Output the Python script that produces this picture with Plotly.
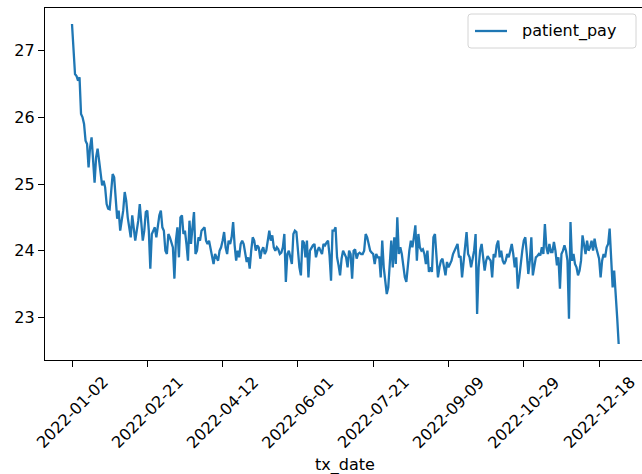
import pandas as pd
import plotly.graph_objects as go

start_date = "2022-01-02"
patient_pay = [
    27.40, 27.00, 26.65, 26.62, 26.55, 26.60, 26.05, 26.00, 25.90, 25.65,
    25.60, 25.25, 25.55, 25.70, 25.35, 25.02, 25.40, 25.53, 25.35, 25.20,
    24.98, 25.05, 24.95, 24.70, 24.63, 24.62, 24.90, 25.15, 25.10, 24.75,
    24.48, 24.60, 24.30, 24.45, 24.60, 24.88, 24.75, 24.50, 24.30, 24.20,
    24.53, 24.35, 24.15, 24.30, 24.45, 24.70, 24.35, 24.15, 24.30, 24.58,
    24.60, 24.30, 23.73, 24.25, 24.30, 24.35, 24.20, 24.40, 24.53, 24.60,
    24.35, 24.30, 24.00, 23.95, 24.25, 24.20, 24.10, 24.05, 23.58, 24.15,
    24.35, 23.90, 24.50, 24.53, 24.25, 24.30, 24.10, 23.85, 24.45, 24.10,
    24.35, 24.58, 23.95, 24.00, 24.20, 24.15, 24.30, 24.33, 24.35, 24.15,
    24.10, 24.15, 24.05, 23.90, 23.80, 23.95, 23.90, 23.85, 24.00, 24.05,
    24.15, 24.28, 24.05, 23.95, 24.15, 24.10, 24.20, 24.43, 24.08, 23.85,
    24.00, 23.90, 24.10, 24.15, 24.10, 23.93, 23.83, 23.90, 23.73, 24.00,
    24.20, 24.15, 24.00, 24.08, 24.05, 23.88, 24.00, 24.05, 23.95, 24.00,
    24.13, 24.30, 24.15, 24.23, 24.05, 24.00, 24.05, 24.02, 23.95, 23.97,
    24.05, 24.25, 23.53, 23.95, 24.00, 23.90, 23.80, 24.25, 24.30, 24.28,
    24.00, 23.75, 23.63, 24.15, 24.12, 23.90, 24.15, 23.60, 24.00, 24.05,
    24.08, 24.10, 23.90, 24.00, 24.05, 24.00, 23.95, 24.10, 24.08, 24.12,
    24.15, 23.93, 23.55, 24.30, 24.30, 24.35, 23.90, 23.78, 23.63, 23.88,
    24.00, 23.95, 23.90, 23.75, 24.00, 23.95, 23.58, 24.00, 24.02, 23.88,
    23.95, 23.97, 23.95, 23.95, 24.00, 24.25, 24.20, 24.10, 24.00, 23.97,
    23.95, 23.80, 23.95, 23.90, 23.90, 23.60, 24.15, 23.75, 23.55, 23.35,
    23.45, 23.80, 24.15, 23.75, 24.20, 23.80, 24.50, 23.95, 24.05, 23.95,
    23.80, 23.60, 23.53, 23.80, 24.00, 24.15, 24.05, 24.20, 24.38, 23.85,
    24.25, 24.05, 24.00, 24.02, 23.95, 23.80, 24.00, 23.68, 23.75, 23.68,
    24.20, 24.25, 23.90, 23.60, 23.75, 23.85, 23.88, 23.75, 23.63, 23.83,
    23.75, 23.80, 23.85, 23.95, 24.00, 24.05, 24.10, 23.90, 23.92, 23.60,
    23.85, 24.05, 24.28, 23.95, 23.90, 23.75, 23.85, 24.00, 24.25, 23.05,
    23.75, 24.00, 24.10, 23.90, 23.70, 23.85, 23.92, 23.88, 23.85, 23.60,
    23.95, 23.90, 24.08, 24.15, 23.90, 24.00, 23.85, 23.80, 23.85, 23.95,
    23.90, 24.00, 24.10, 23.95, 23.75, 23.90, 23.43, 23.60, 23.85, 24.00,
    24.15, 24.20, 23.95, 23.65, 23.85, 24.20, 23.63, 23.80, 23.90, 23.92,
    23.95, 23.93, 24.05, 23.95, 24.40, 24.05, 23.95, 24.10, 23.98, 23.98,
    24.13, 24.00, 23.78, 23.90, 23.43, 23.95, 24.00, 24.08, 24.00, 23.85,
    22.98, 24.43, 23.85, 23.95, 23.80, 23.75, 23.63, 23.70, 23.85, 24.23,
    24.05, 23.95, 24.15, 24.00, 24.05, 24.15, 24.00, 24.18, 24.05, 23.97,
    23.88, 23.60, 23.85, 23.95, 23.90, 24.05, 24.10, 24.33, 23.88, 23.45,
    23.70, 23.40, 23.00, 22.60,
]
x_tick_labels = ["2022-01-02", "2022-02-21", "2022-04-12", "2022-06-01",
                 "2022-07-21", "2022-09-09", "2022-10-29", "2022-12-18"]
y_tick_values = [23, 24, 25, 26, 27]
series_name = "patient_pay"
x_title = "tx_date"

dates = pd.date_range(start_date, periods=len(patient_pay), freq="D")

# figure geometry (pixels); the right spine of the original lies just
# outside the picture, so the plot area runs to the right edge
W, H = 642, 474
L, R, T, B = 45, 0, 8, 114
PW, PH = W - L - R, H - T - B

px_per_day = 1.506
first_px = 72
d0 = dates[0]
x_range = [d0 - pd.Timedelta(days=(first_px - L) / px_per_day),
           d0 + pd.Timedelta(days=(W - R - first_px) / px_per_day)]
ymin, ymax = min(patient_pay), max(patient_pay)
yr = ymax - ymin
y_range = [ymin - 0.05 * yr, ymax + 0.05 * yr]

FONT = "DejaVu Sans"
FS = 16
BLUE = "#1f77b4"


def px(xp):
    return (xp - L) / PW


def py(yp):
    return 1 - (yp - T) / PH


fig = go.Figure()
fig.add_trace(go.Scatter(
    x=dates, y=patient_pay, mode="lines", name=series_name,
    line=dict(color=BLUE, width=2.3), showlegend=False,
))

fig.update_layout(
    width=W, height=H,
    margin=dict(l=L, r=R, t=T, b=B),
    paper_bgcolor="white", plot_bgcolor="white",
    font=dict(family=FONT, size=FS, color="#000000"),
    showlegend=False,
    xaxis=dict(range=x_range, showgrid=False, zeroline=False,
               tickvals=pd.to_datetime(x_tick_labels), showticklabels=False,
               ticks="outside", ticklen=6, tickwidth=1.2, tickcolor="black",
               showline=True, linecolor="black", linewidth=1.2, mirror=True),
    yaxis=dict(range=y_range, showgrid=False, zeroline=False,
               tickvals=y_tick_values, ticks="outside", ticklen=6,
               tickwidth=1.2, tickcolor="black",
               showline=True, linecolor="black", linewidth=1.2, mirror=False,
               tickfont=dict(size=FS)),
)

# x tick labels, rotated 45 deg and centred on the tick (matplotlib style)
for lab in x_tick_labels:
    fig.add_annotation(x=pd.to_datetime(lab), xref="x", y=0, yref="paper",
                       text=lab, textangle=-45, showarrow=False,
                       xanchor="center", yanchor="top", yshift=-10,
                       font=dict(family=FONT, size=FS, color="black"))

fig.add_annotation(x=(px(45) + px(644)) / 2, xref="paper", y=py(465),
                   yref="paper", text=x_title, showarrow=False,
                   xanchor="center", yanchor="middle",
                   font=dict(family=FONT, size=FS, color="black"))

# legend (matplotlib style rounded box)
bx0, bx1, by0, by1, rad = 468, 636, 14, 48, 3
path = (f"M {px(bx0 + rad)},{py(by0)} L {px(bx1 - rad)},{py(by0)} "
        f"Q {px(bx1)},{py(by0)} {px(bx1)},{py(by0 + rad)} "
        f"L {px(bx1)},{py(by1 - rad)} "
        f"Q {px(bx1)},{py(by1)} {px(bx1 - rad)},{py(by1)} "
        f"L {px(bx0 + rad)},{py(by1)} "
        f"Q {px(bx0)},{py(by1)} {px(bx0)},{py(by1 - rad)} "
        f"L {px(bx0)},{py(by0 + rad)} "
        f"Q {px(bx0)},{py(by0)} {px(bx0 + rad)},{py(by0)} Z")
fig.add_shape(type="path", xref="paper", yref="paper", path=path,
              line=dict(color="#d4d4d4", width=1), fillcolor="white",
              layer="above")
fig.add_shape(type="line", xref="paper", yref="paper",
              x0=px(475), x1=px(507), y0=py(31), y1=py(31),
              line=dict(color=BLUE, width=2.3), layer="above")
fig.add_annotation(x=px(520), xref="paper", y=py(31), yref="paper",
                   text=series_name, showarrow=False, xanchor="left",
                   yanchor="middle",
                   font=dict(family=FONT, size=FS, color="black"))

fig.write_html("out.html")
